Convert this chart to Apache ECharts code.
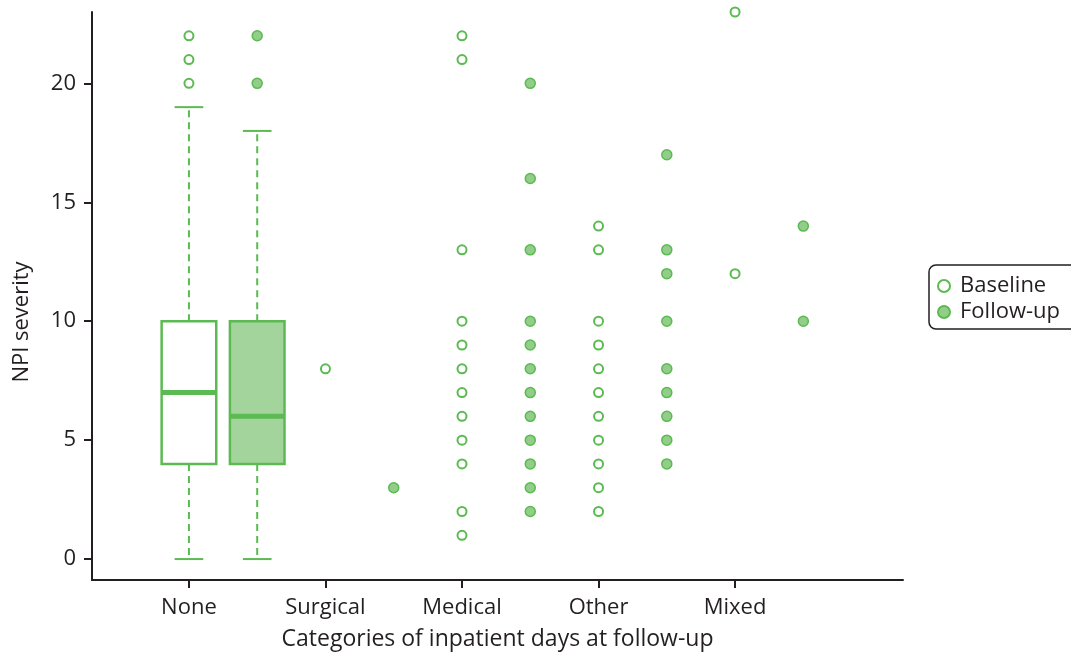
<!DOCTYPE html>
<html>
<head>
<meta charset="utf-8">
<title>NPI severity by inpatient days category</title>
<script src="https://cdn.jsdelivr.net/npm/echarts@6/dist/echarts.min.js"></script>
<style>
  html, body { margin: 0; padding: 0; background: #fff; overflow: hidden; }
  #chart { width: 1071px; height: 654px; }
</style>
</head>
<body>
<div id="chart"></div>
<script>
// Groups along the x axis
const categories = ['None', 'Surgical', 'Medical', 'Other', 'Mixed'];
const yTicks = [0, 5, 10, 15, 20];

// Box summaries for the "None" group: [lower whisker, Q1, median, Q3, upper whisker]
const noneBaselineBox = [0, 4, 7, 10, 19];
const noneFollowupBox = [0, 4, 6, 10, 18];
const noneBaselineOutliers = [20, 21, 22];
const noneFollowupOutliers = [20, 22];

// Individual scores for the smaller groups
const surgicalBaseline = [8];
const surgicalFollowup = [3];
const medicalBaseline = [22, 21, 13, 10, 9, 8, 7, 6, 5, 4, 2, 1];
const medicalFollowup = [20, 16, 13, 10, 9, 8, 7, 6, 5, 4, 3, 2];
const otherBaseline = [14, 13, 10, 9, 8, 7, 6, 5, 4, 3, 2];
const otherFollowup = [17, 13, 12, 10, 8, 7, 6, 5, 4];
const mixedBaseline = [23, 12];
const mixedFollowup = [14, 10];

const GREEN = '#5cba52';
const LIGHT = '#a3d49b';
const DOT = '#92cd89';
const INK = '#231f20';
const FONT = '"Open Sans", "Noto Sans", sans-serif';
const FS = 22;

// Baseline sits on the group tick, follow-up half a step to the right
const FOLLOW_SHIFT = 0.5;

function pointsFor(groups, shift) {
  const out = [];
  groups.forEach(function (vals, gi) {
    vals.forEach(function (v) { out.push([gi + shift, v]); });
  });
  return out;
}

const baselinePoints = pointsFor(
  [noneBaselineOutliers, surgicalBaseline, medicalBaseline, otherBaseline, mixedBaseline], 0);
const followupPoints = pointsFor(
  [noneFollowupOutliers, surgicalFollowup, medicalFollowup, otherFollowup, mixedFollowup], FOLLOW_SHIFT);

// [x position, whisker low, Q1, median, Q3, whisker high, filled flag]
const boxData = [
  [0].concat(noneBaselineBox).concat([0]),
  [FOLLOW_SHIFT].concat(noneFollowupBox).concat([1])
];

function renderBox(params, api) {
  const x = api.value(0);
  const lo = api.coord([x, api.value(1)]);
  const q1 = api.coord([x, api.value(2)]);
  const med = api.coord([x, api.value(3)]);
  const q3 = api.coord([x, api.value(4)]);
  const hi = api.coord([x, api.value(5)]);
  const filled = api.value(6) === 1;
  const halfBox = api.size([0.40, 0])[0] / 2;
  const halfCap = api.size([0.21, 0])[0] / 2;
  const cx = lo[0];
  const dashed = { stroke: GREEN, lineWidth: 2, lineDash: [7, 5] };
  const solid = { stroke: GREEN, lineWidth: 2 };
  return {
    type: 'group',
    children: [
      { type: 'line', shape: { x1: cx, y1: q3[1], x2: cx, y2: hi[1] }, style: dashed },
      { type: 'line', shape: { x1: cx, y1: q1[1], x2: cx, y2: lo[1] }, style: dashed },
      { type: 'line', shape: { x1: cx - halfCap, y1: hi[1], x2: cx + halfCap, y2: hi[1] }, style: solid },
      { type: 'line', shape: { x1: cx - halfCap, y1: lo[1], x2: cx + halfCap, y2: lo[1] }, style: solid },
      {
        type: 'rect',
        shape: { x: cx - halfBox, y: q3[1], width: halfBox * 2, height: q1[1] - q3[1] },
        style: { fill: filled ? LIGHT : '#ffffff', stroke: GREEN, lineWidth: 2.5 }
      },
      { type: 'line', shape: { x1: cx - halfBox, y1: med[1], x2: cx + halfBox, y2: med[1] },
        style: { stroke: GREEN, lineWidth: 5 } }
    ]
  };
}

const chart = echarts.init(document.getElementById('chart'), null, { renderer: 'canvas' });

chart.setOption({
  animation: false,
  backgroundColor: '#ffffff',
  textStyle: { fontFamily: FONT, color: INK },
  grid: {
    left: 92, right: 168, top: 12, bottom: 74,
    containLabel: false,
    outerBoundsMode: 'none'
  },
  legend: {
    orient: 'vertical',
    left: 929,
    top: 265,
    data: ['Baseline', 'Follow-up'],
    itemWidth: 22,
    itemHeight: 12,
    itemGap: 4,
    borderColor: INK,
    borderWidth: 1.5,
    borderRadius: 7,
    padding: [10, 40, 6, 8],
    textStyle: { fontFamily: FONT, fontSize: FS, color: INK, lineHeight: 22 }
  },
  xAxis: {
    type: 'value',
    min: -0.71,
    max: 5.23,
    name: 'Categories of inpatient days at follow-up',
    nameLocation: 'middle',
    nameGap: 48,
    nameTextStyle: { fontFamily: FONT, fontSize: 23, color: INK },
    splitLine: { show: false },
    axisLine: { show: true, onZero: false, lineStyle: { color: INK, width: 2 } },
    axisTick: { show: true, length: 8, customValues: [0, 1, 2, 3, 4], lineStyle: { color: INK, width: 2 } },
    axisLabel: {
      customValues: [0, 1, 2, 3, 4],
      margin: 17,
      fontFamily: FONT,
      fontSize: FS,
      color: INK,
      formatter: function (v) { return categories[Math.round(v)]; }
    }
  },
  yAxis: {
    type: 'value',
    min: -0.88,
    max: 23.0,
    name: 'NPI severity',
    nameLocation: 'middle',
    nameGap: 59,
    // extra trailing space centres the title on the labelled tick range
    nameTextStyle: { fontFamily: FONT, fontSize: FS, color: INK, padding: [0, 52, 0, 0] },
    splitLine: { show: false },
    axisLine: { show: true, onZero: false, lineStyle: { color: INK, width: 2 } },
    axisTick: { show: true, length: 8, customValues: yTicks, lineStyle: { color: INK, width: 2 } },
    axisLabel: { customValues: yTicks, margin: 16, fontFamily: FONT, fontSize: FS, color: INK }
  },
  series: [
    {
      name: 'Baseline',
      type: 'scatter',
      symbol: 'circle',
      symbolSize: 9,
      itemStyle: { color: '#ffffff', borderColor: GREEN, borderWidth: 2, opacity: 1 },
      data: baselinePoints,
      z: 3
    },
    {
      name: 'Follow-up',
      type: 'scatter',
      symbol: 'circle',
      symbolSize: 10,
      itemStyle: { color: DOT, borderColor: GREEN, borderWidth: 1.5, opacity: 1 },
      data: followupPoints,
      z: 3
    },
    {
      name: 'boxes',
      type: 'custom',
      renderItem: renderBox,
      data: boxData,
      encode: { x: 0, y: [1, 2, 3, 4, 5] },
      z: 2
    }
  ]
});
</script>
</body>
</html>
